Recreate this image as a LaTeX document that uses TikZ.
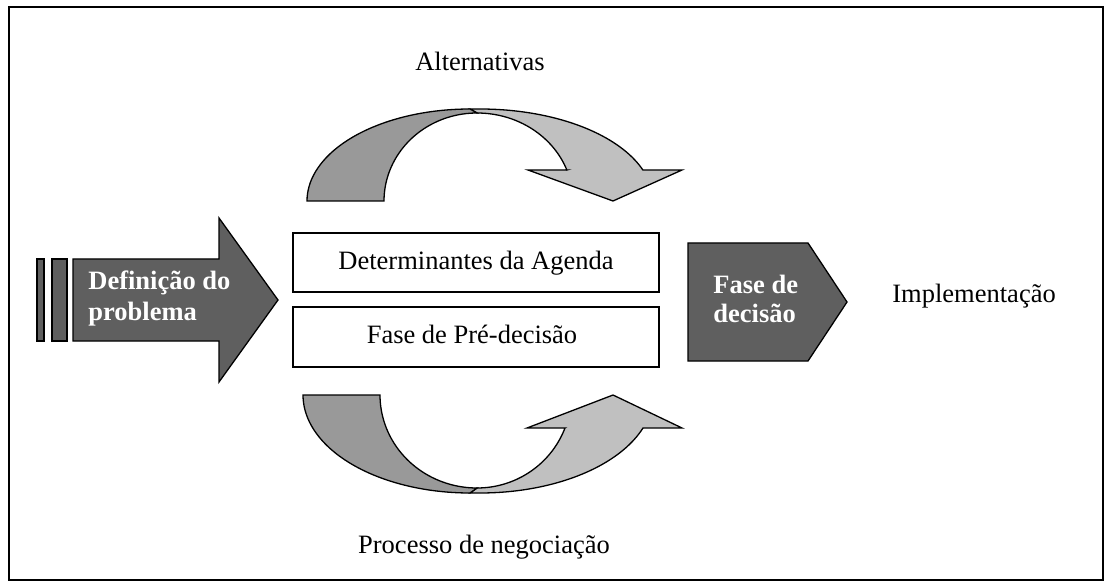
\documentclass[tikz,border=0pt]{standalone}
\usepackage{fontspec}
\setmainfont{Liberation Serif}
\definecolor{darkfill}{HTML}{5F5F5F}
\definecolor{banddark}{HTML}{999999}
\definecolor{bandlight}{HTML}{C0C0C0}
\begin{document}
\begin{tikzpicture}[x=0.5pt,y=-0.5pt,
  shp/.style={draw=black,line width=0.65pt,line join=miter},
  lbl/.style={inner sep=0pt,font=\fontsize{13.25}{15}\selectfont},
  wlbl/.style={inner sep=0pt,font=\fontsize{13.25}{15}\selectfont\bfseries,text=white},
  box/.style={draw=black,line width=0.65pt,fill=white}]
\useasboundingbox (0,0) rectangle (1111,587);
% frame
\draw[line width=1pt] (9,7) rectangle (1103,580);

% left big arrow
\draw[shp,fill=darkfill] (37,259) rectangle (44,341);
\draw[shp,fill=darkfill] (52,259) rectangle (67,341);
\draw[shp,fill=darkfill] (73,259) -- (219,259) -- (219,218) -- (278,300) -- (219,382) -- (219,341) -- (73,341) -- cycle;
\node[wlbl,anchor=base west] (def1) at (88,290) {Definição do};
\node[wlbl,anchor=base west] (def2) at (88,320) {problema};

% top curved arrow
\draw[shp,fill=bandlight] (477,113) -- (470,109) -- (480,109)
  -- plot[domain=270:340.3,samples=40,smooth] ({480+173*cos(\x)},{201+92*sin(\x)})
  -- (682,170) -- (613,201) -- (528,170) -- (567,170)
  -- plot[domain=339.4:270,samples=40,smooth] ({477+96*cos(\x)},{201+88*sin(\x)}) -- cycle;
\draw[shp,fill=banddark] (307,201)
  -- plot[domain=180:270,samples=40,smooth] ({470+163*cos(\x)},{201+92*sin(\x)})
  -- (477,113)
  -- plot[domain=270:180,samples=40,smooth] ({477+93*cos(\x)},{201+88*sin(\x)}) -- cycle;

% bottom curved arrow
\draw[shp,fill=bandlight] (477,488) -- (470,493) -- (480,493)
  -- plot[domain=90:19.7,samples=40,smooth] ({480+173.1*cos(\x)},{395+98*sin(\x)})
  -- (682,428) -- (613,395) -- (527,428) -- (565,428)
  -- plot[domain=20.8:90,samples=40,smooth] ({477+94.1*cos(\x)},{395+93*sin(\x)}) -- cycle;
\draw[shp,fill=banddark] (303,395)
  -- plot[domain=180:90,samples=40,smooth] ({470+167*cos(\x)},{395+98*sin(\x)})
  -- (477,488)
  -- plot[domain=90:180,samples=40,smooth] ({477+97*cos(\x)},{395+93*sin(\x)}) -- cycle;

% centre boxes
\draw[box] (293,233) rectangle (659,292);
\draw[box] (293,307) rectangle (659,367);
\node[lbl,anchor=base] (agenda) at (476,270) {Determinantes da Agenda};
\node[lbl,anchor=base] (pre) at (472,343) {Fase de Pré-decisão};

% decision pentagon
\draw[shp,fill=darkfill] (688,243) -- (808,243) -- (847,302) -- (808,361) -- (688,361) -- cycle;
\node[wlbl,anchor=base west] (fase1) at (713,293) {Fase de};
\node[wlbl,anchor=base west] (fase2) at (713,322) {decisão};

% free labels
\node[lbl,anchor=base] (alt) at (480,71) {Alternativas};
\node[lbl,anchor=base] (neg) at (484,553) {Processo de negociação};
\node[lbl,anchor=base west] (impl) at (892,302) {Implementação};
\end{tikzpicture}
\end{document}
